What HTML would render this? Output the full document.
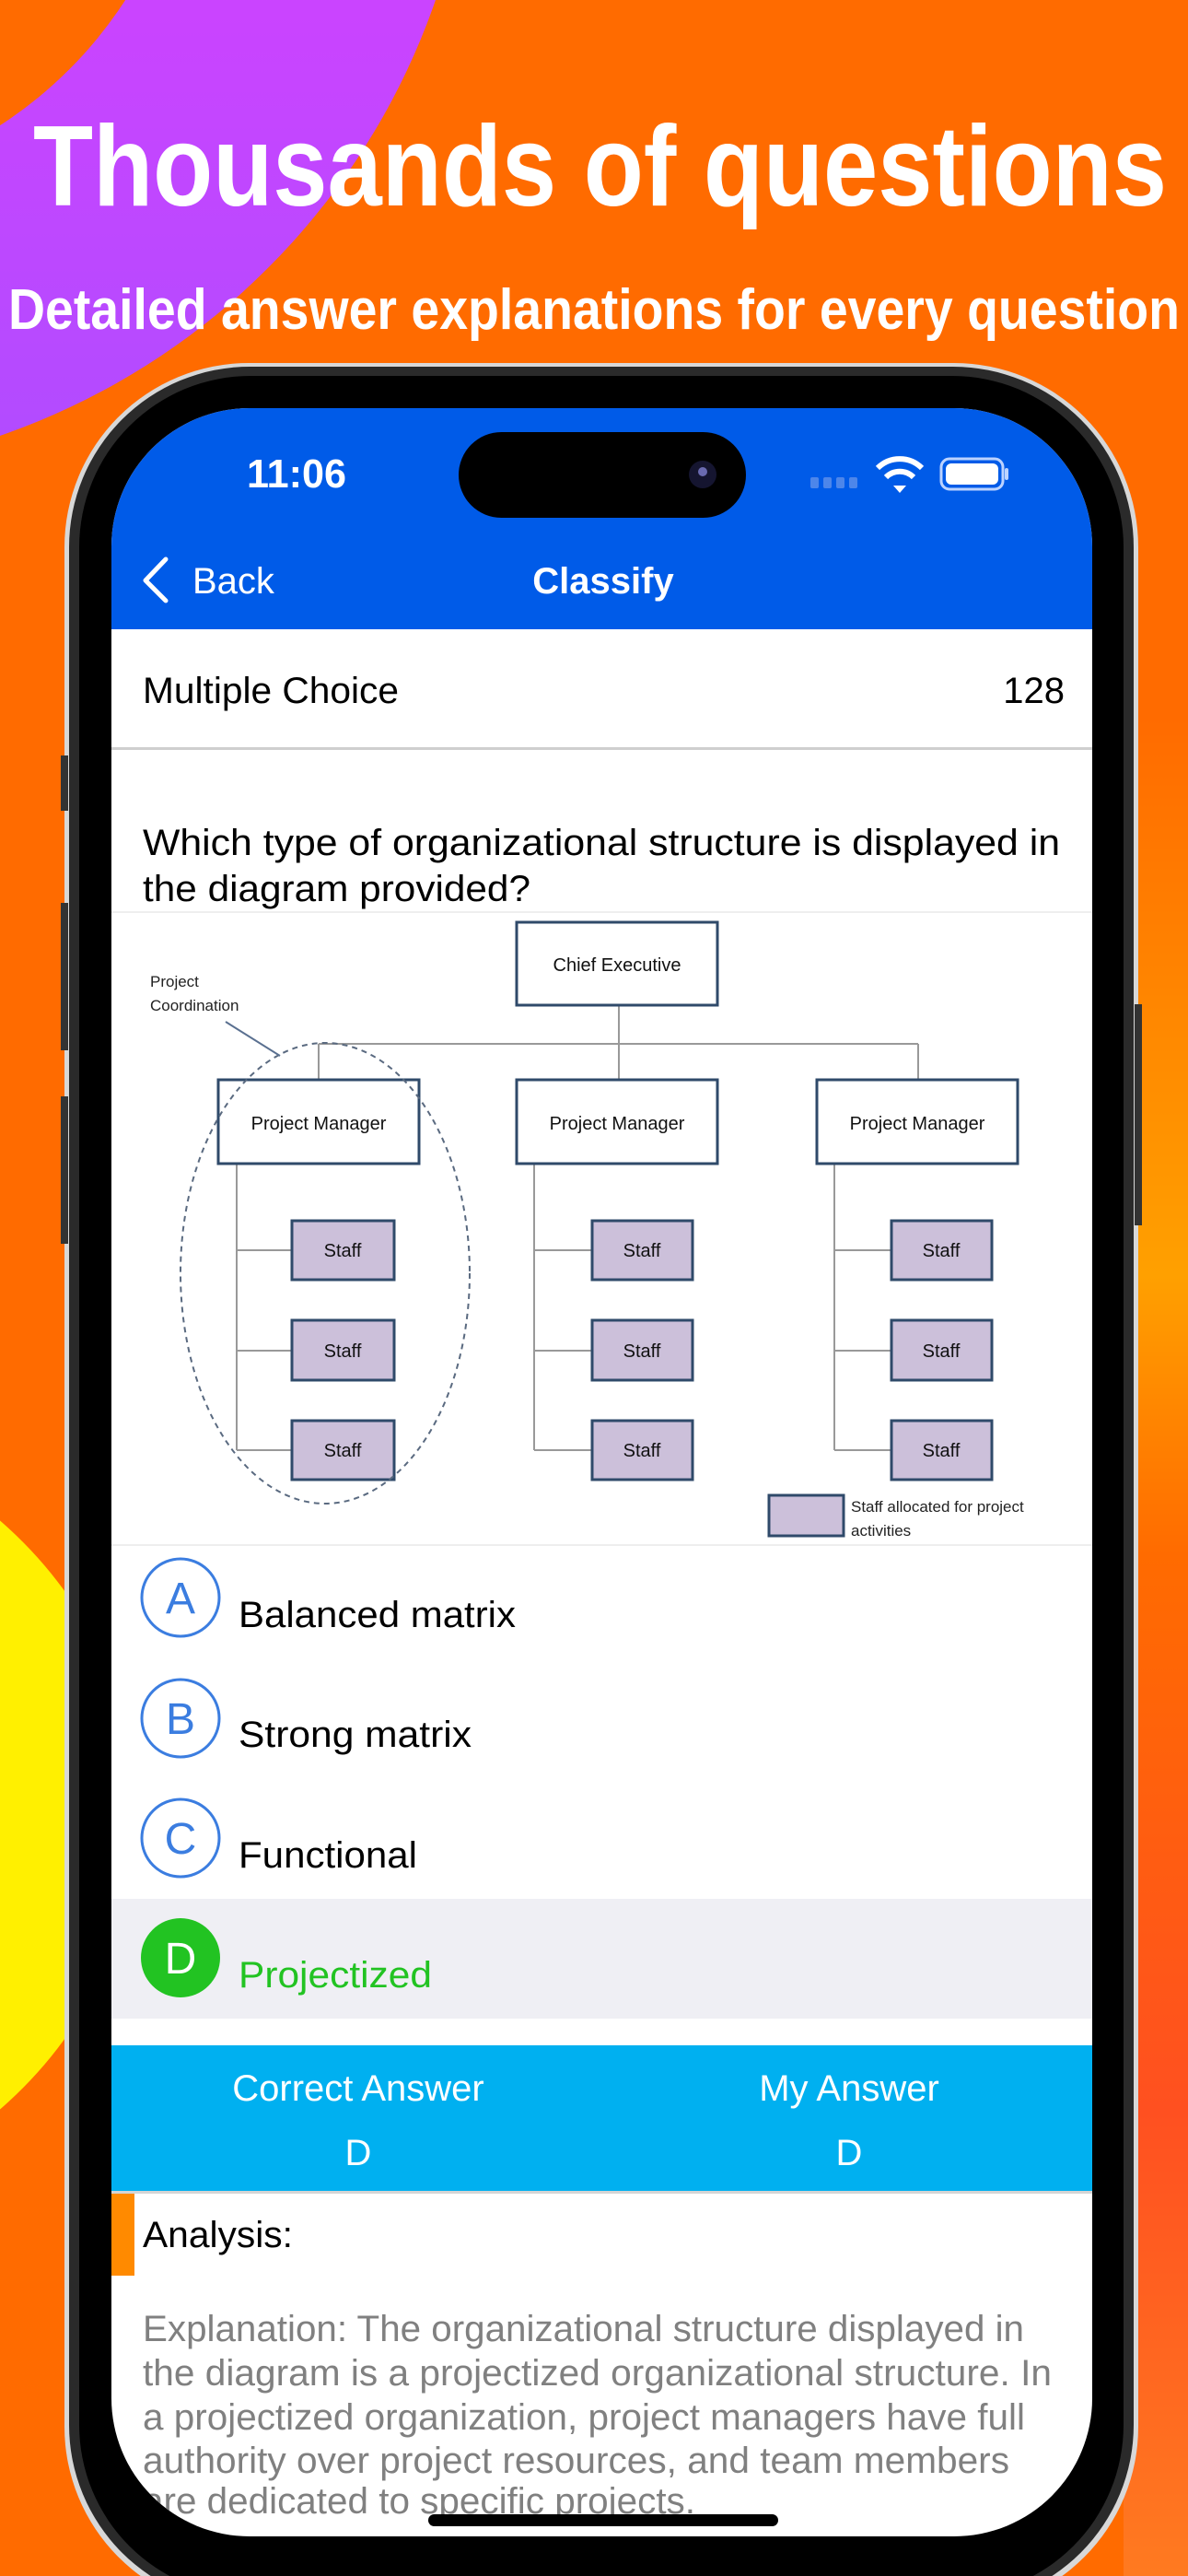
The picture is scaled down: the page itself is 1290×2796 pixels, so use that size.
<!DOCTYPE html>
<html><head><meta charset="utf-8"><style>
html,body{margin:0;padding:0;background:#FF6B00;}
svg{display:block;}
text{font-family:"Liberation Sans",sans-serif;}
</style></head><body>
<svg width="1290" height="2796" viewBox="0 0 1290 2796" xmlns="http://www.w3.org/2000/svg">
<defs>
<linearGradient id="pk" x1="0" y1="0" x2="0" y2="1">
<stop offset="0" stop-color="#FF33FF"/><stop offset="1" stop-color="#B04CFF"/>
</linearGradient>
<linearGradient id="rt" x1="0" y1="0" x2="0" y2="1">
<stop offset="0" stop-color="#FF6B00"/><stop offset="0.3" stop-color="#FFA000"/><stop offset="0.45" stop-color="#FF6B00"/><stop offset="0.75" stop-color="#FF5020"/><stop offset="1" stop-color="#FF7A20"/>
</linearGradient>
</defs>
<rect width="1290" height="2796" fill="#FF6B00"/>
<circle cx="-250" cy="-250" r="765" fill="url(#pk)"/>
<circle cx="-250" cy="-250" r="460" fill="#FF6B00"/>
<ellipse cx="-330" cy="1970" rx="480" ry="440" fill="#FFF000"/>
<rect x="1220" y="780" width="70" height="2016" fill="url(#rt)"/>

<text x="36" y="223" font-size="124" font-weight="bold" fill="#fff" textLength="1231" lengthAdjust="spacingAndGlyphs">Thousands of questions</text>
<text x="9" y="357" font-size="62" font-weight="bold" fill="#fff" textLength="1272" lengthAdjust="spacingAndGlyphs">Detailed answer explanations for every question</text>

<!-- phone frame -->
<rect x="70" y="394" width="1166" height="2440" rx="200" fill="#d8d8d8"/>
<rect x="75" y="398" width="1156" height="2430" rx="196" fill="#2a2a2a"/>
<rect x="86" y="408" width="1134" height="2410" rx="186" fill="#000"/>
<rect x="66" y="820" width="8" height="60" fill="#333"/>
<rect x="66" y="980" width="8" height="160" fill="#333"/>
<rect x="66" y="1190" width="8" height="160" fill="#333"/>
<rect x="1232" y="1090" width="8" height="240" fill="#333"/>

<!-- screen -->
<clipPath id="scr"><rect x="121" y="443" width="1065" height="2310" rx="150"/></clipPath>
<g clip-path="url(#scr)">
<rect x="121" y="443" width="1065" height="2310" fill="#fff"/>
<rect x="121" y="443" width="1065" height="240" fill="#005BE8"/>
<text x="268" y="529" font-size="44" font-weight="bold" fill="#fff" textLength="108" lengthAdjust="spacingAndGlyphs">11:06</text>
<rect x="498" y="469" width="312" height="93" rx="46.5" fill="#000"/>
<circle cx="763" cy="515" r="15" fill="#151530"/><circle cx="763" cy="512" r="5" fill="#6a6ab0"/>
<g fill="#4d86ea"><rect x="880" y="518" width="9" height="12" rx="2"/><rect x="894" y="518" width="9" height="12" rx="2"/><rect x="908" y="518" width="9" height="12" rx="2"/><rect x="922" y="518" width="9" height="12" rx="2"/></g>
<path d="M953 508 A34 34 0 0 1 1001 508" stroke="#fff" stroke-width="6" fill="none"/>
<path d="M962 518 A21 21 0 0 1 992 518" stroke="#fff" stroke-width="6" fill="none"/>
<path d="M970 527 L977 535 L984 527 Z" fill="#fff"/>
<rect x="1022" y="498" width="67" height="33" rx="9" fill="none" stroke="#bcd3ff" stroke-width="3"/>
<rect x="1027" y="503" width="57" height="23" rx="6" fill="#fff"/>
<rect x="1091" y="508" width="4" height="13" rx="2" fill="#bcd3ff"/>
<path d="M180 607 L158 630 L180 652" stroke="#fff" stroke-width="5" fill="none" stroke-linecap="round" stroke-linejoin="round"/>
<text x="209" y="644" font-size="40" fill="#fff">Back</text>
<text x="655" y="644" font-size="40" font-weight="bold" fill="#fff" text-anchor="middle">Classify</text>

<text x="155" y="763" font-size="40" fill="#000" textLength="278" lengthAdjust="spacingAndGlyphs">Multiple Choice</text>
<text x="1156" y="763" font-size="40" fill="#000" text-anchor="end">128</text>
<rect x="121" y="811" width="1065" height="3" fill="#cfcfcf"/>
<text x="155" y="928" font-size="40" fill="#000" textLength="996" lengthAdjust="spacingAndGlyphs">Which type of organizational structure is displayed in</text>
<text x="155" y="978" font-size="40" fill="#000" textLength="421" lengthAdjust="spacingAndGlyphs">the diagram provided?</text>

<!-- diagram -->
<line x1="121" y1="990" x2="1186" y2="990" stroke="#eee" stroke-width="2"/>
<line x1="121" y1="1677" x2="1186" y2="1677" stroke="#eee" stroke-width="2"/>
<g stroke="#999" stroke-width="2" fill="none">
<line x1="672" y1="1091" x2="672" y2="1172"/>
<line x1="346" y1="1133" x2="997" y2="1133"/>
<line x1="346" y1="1133" x2="346" y2="1172"/>
<line x1="997" y1="1133" x2="997" y2="1172"/>
<line x1="257" y1="1263" x2="257" y2="1574"/>
<line x1="580" y1="1263" x2="580" y2="1574"/>
<line x1="906" y1="1263" x2="906" y2="1574"/>
<line x1="257" y1="1357" x2="317" y2="1357"/><line x1="257" y1="1466" x2="317" y2="1466"/><line x1="257" y1="1574" x2="317" y2="1574"/>
<line x1="580" y1="1357" x2="643" y2="1357"/><line x1="580" y1="1466" x2="643" y2="1466"/><line x1="580" y1="1574" x2="643" y2="1574"/>
<line x1="906" y1="1357" x2="968" y2="1357"/><line x1="906" y1="1466" x2="968" y2="1466"/><line x1="906" y1="1574" x2="968" y2="1574"/>
</g>
<g stroke="#2f4a6a" stroke-width="3" fill="#fff">
<rect x="561" y="1001" width="218" height="90"/>
<rect x="237" y="1172" width="218" height="91"/>
<rect x="561" y="1172" width="218" height="91"/>
<rect x="887" y="1172" width="218" height="91"/>
</g>
<g stroke="#2f4a6a" stroke-width="3" fill="#ccc0da">
<rect x="317" y="1325" width="111" height="64"/><rect x="317" y="1433" width="111" height="65"/><rect x="317" y="1542" width="111" height="64"/>
<rect x="643" y="1325" width="109" height="64"/><rect x="643" y="1433" width="109" height="65"/><rect x="643" y="1542" width="109" height="64"/>
<rect x="968" y="1325" width="109" height="64"/><rect x="968" y="1433" width="109" height="65"/><rect x="968" y="1542" width="109" height="64"/>
<rect x="835" y="1623" width="81" height="44"/>
</g>
<ellipse cx="353" cy="1382" rx="157" ry="250" fill="none" stroke="#5a6a80" stroke-width="2" stroke-dasharray="6,5"/>
<line x1="245" y1="1109" x2="304" y2="1146" stroke="#5a7090" stroke-width="2"/>
<g font-size="20" fill="#111" text-anchor="middle">
<text x="670" y="1054">Chief Executive</text>
<text x="346" y="1226">Project Manager</text>
<text x="670" y="1226">Project Manager</text>
<text x="996" y="1226">Project Manager</text>
<text x="372" y="1364">Staff</text><text x="372" y="1473">Staff</text><text x="372" y="1581">Staff</text>
<text x="697" y="1364">Staff</text><text x="697" y="1473">Staff</text><text x="697" y="1581">Staff</text>
<text x="1022" y="1364">Staff</text><text x="1022" y="1473">Staff</text><text x="1022" y="1581">Staff</text>
</g>
<g font-size="17" fill="#222">
<text x="163" y="1071">Project</text>
<text x="163" y="1097">Coordination</text>
<text x="924" y="1641">Staff allocated for project</text>
<text x="924" y="1667">activities</text>
</g>

<!-- options -->
<rect x="121" y="2061" width="1065" height="130" fill="#efeff4"/>
<g fill="none" stroke="#3b7de0" stroke-width="3">
<circle cx="196" cy="1734" r="42"/><circle cx="196" cy="1865" r="42"/><circle cx="196" cy="1995" r="42"/>
</g>
<circle cx="196" cy="2125" r="43" fill="#22c322"/>
<g font-size="48" text-anchor="middle">
<text x="196" y="1751" fill="#3b7de0">A</text>
<text x="196" y="1882" fill="#3b7de0">B</text>
<text x="196" y="2012" fill="#3b7de0">C</text>
<text x="196" y="2142" fill="#fff">D</text>
</g>
<g font-size="40">
<text x="259" y="1766" fill="#000" textLength="301" lengthAdjust="spacingAndGlyphs">Balanced matrix</text>
<text x="259" y="1896" fill="#000" textLength="253" lengthAdjust="spacingAndGlyphs">Strong matrix</text>
<text x="259" y="2027" fill="#000" textLength="194" lengthAdjust="spacingAndGlyphs">Functional</text>
<text x="259" y="2157" fill="#22c322" textLength="210" lengthAdjust="spacingAndGlyphs">Projectized</text>
</g>

<rect x="121" y="2220" width="1065" height="158" fill="#00B0F0"/>
<rect x="121" y="2378" width="1065" height="3" fill="#d5d5d5"/>
<g font-size="40" fill="#fff" text-anchor="middle">
<text x="389" y="2280">Correct Answer</text>
<text x="922" y="2280">My Answer</text>
<text x="389" y="2350">D</text>
<text x="922" y="2350">D</text>
</g>
<rect x="121" y="2381" width="25" height="89" fill="#FF8A00"/>
<text x="155" y="2439" font-size="40" fill="#000" textLength="163" lengthAdjust="spacingAndGlyphs">Analysis:</text>
<g font-size="40" fill="#808080">
<text x="155" y="2541" textLength="957" lengthAdjust="spacingAndGlyphs">Explanation: The organizational structure displayed in</text>
<text x="155" y="2589" textLength="987" lengthAdjust="spacingAndGlyphs">the diagram is a projectized organizational structure. In</text>
<text x="155" y="2637" textLength="958" lengthAdjust="spacingAndGlyphs">a projectized organization, project managers have full</text>
<text x="155" y="2684" textLength="941" lengthAdjust="spacingAndGlyphs">authority over project resources, and team members</text>
<text x="155" y="2728" textLength="600" lengthAdjust="spacingAndGlyphs">are dedicated to specific projects.</text>
</g>
<rect x="465" y="2729" width="380" height="13" rx="6.5" fill="#000"/>
</g>
</svg>
</body></html>
